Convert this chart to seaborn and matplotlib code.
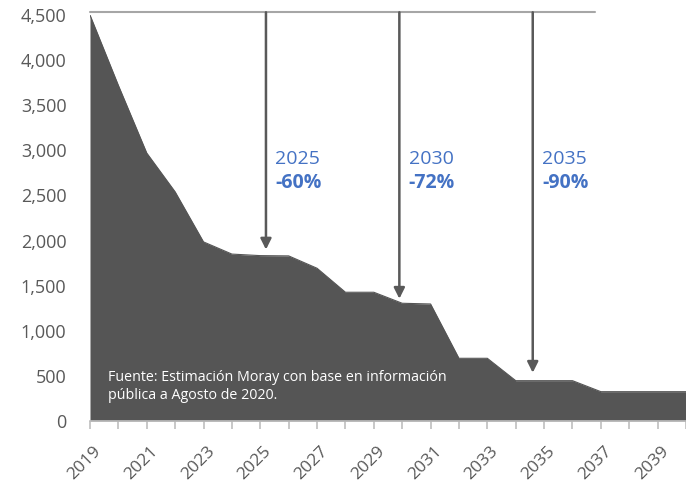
import numpy as np
import pandas as pd
import matplotlib.pyplot as plt
import seaborn as sns
from matplotlib.ticker import FuncFormatter
from matplotlib.transforms import ScaledTranslation

# data
years = list(range(2019, 2041))
values = [4500, 3720, 2970, 2540, 1985, 1850, 1833, 1830, 1693, 1427, 1427,
          1305, 1297, 695, 695, 447, 447, 447, 325, 325, 325, 325]

arrow_years = [2025.2, 2029.9, 2034.6]
arrow_tips = [1900, 1355, 535]
arrow_labels = ["2025", "2030", "2035"]
arrow_pcts = ["-60%", "-72%", "-90%"]
top_level = 4530

source = "Fuente: Estimación Moray con base en información\npública a Agosto de 2020."

df = pd.DataFrame({"year": years, "value": values})

sns.set_style("white")
plt.rcParams['font.family'] = ['Open Sans', 'DejaVu Sans']

fig = plt.figure(figsize=(6.86, 4.87), dpi=100)
ax = fig.add_axes([90/686, 1-421/487, 1-90/686, (421-15)/487])

area_col = '#555555'
sns.lineplot(data=df, x='year', y='value', color=area_col, linewidth=0.8, ax=ax)
ax.fill_between(df.year, df.value, color=area_col, linewidth=0)

ax.set_xlim(2019, 2040)
ax.set_ylim(0, 4500)

# reference line at the top and the arrows
ax.plot([2019, 2036.8], [top_level, top_level], color='#a6a6a6', lw=1.5, clip_on=False)
for x, tip, lab, pct in zip(arrow_years, arrow_tips, arrow_labels, arrow_pcts):
    ax.annotate("", xy=(x, tip), xytext=(x, top_level),
                arrowprops=dict(arrowstyle='-|>', color='#595959', lw=1.8,
                                mutation_scale=16, shrinkA=0, shrinkB=0),
                annotation_clip=False)
    ax.text(x + 0.33, 2900, lab, color='#4472c4', fontsize=14, va='center', ha='left')
    ax.text(x + 0.33, 2640, pct, color='#4472c4', fontsize=14, fontweight='bold',
            va='center', ha='left')

ax.text(2019.65, 385, source, color='white', fontsize=10.3, va='center', ha='left',
        linespacing=1.3)

# axes styling
for s in ['top', 'right', 'left']:
    ax.spines[s].set_visible(False)
ax.spines['bottom'].set_color('#bfbfbf')
ax.spines['bottom'].set_linewidth(1.2)

ax.set_yticks(np.arange(0, 4501, 500))
ax.yaxis.set_major_formatter(FuncFormatter(lambda v, p: f"{int(v):,}"))
ax.tick_params(axis='y', length=0, labelsize=13, labelcolor='#595959', pad=17)

ax.set_xticks(years)
ax.set_xticklabels([str(y) if (y - 2019) % 2 == 0 else "" for y in years],
                   rotation=45, ha='right', rotation_mode='anchor')
ax.tick_params(axis='x', length=6, width=1.2, color='#bfbfbf', labelsize=12.5,
               labelcolor='#595959', pad=10, direction='out', bottom=True)
for lab in ax.get_xticklabels():
    lab.set_transform(lab.get_transform() + ScaledTranslation(0.03, 0, fig.dpi_scale_trans))
ax.set_xlabel("")
ax.set_ylabel("")

fig.savefig("out.png", dpi=100)
